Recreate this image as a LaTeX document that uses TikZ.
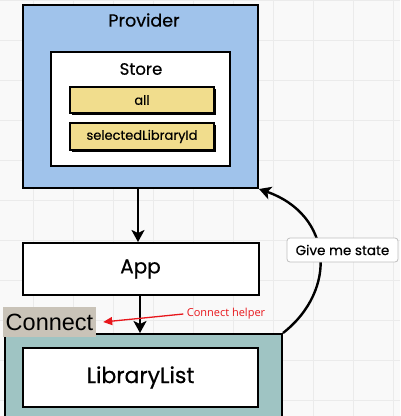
\documentclass[tikz,border=0pt]{standalone}
\usepackage{fontspec}
\setmainfont{Poppins}[FakeBold=0.5]
\setsansfont{Liberation Sans}
\newfontfamily\helperfont{Open Sans}
\usetikzlibrary{arrows.meta,shadows}
\definecolor{provblue}{HTML}{A0C3EB}
\definecolor{tealbox}{HTML}{9FC4C3}
\definecolor{yel}{HTML}{F1DD8D}
\definecolor{congray}{HTML}{C9C3B8}
\definecolor{redarr}{HTML}{E8161B}
\definecolor{bg}{HTML}{F9F9F9}
\tikzset{
  box/.style={draw=black, line width=2pt, minimum width=#1, inner sep=0pt},
  field/.style={draw=black, line width=1.2pt, fill=yel, inner sep=0pt,
     minimum width=144pt, font=\fontsize{13}{15}\selectfont,
     drop shadow={shadow xshift=2pt, shadow yshift=-2pt, fill=black, opacity=1}},
  flow/.style={line width=2.4pt, -{Stealth[length=12pt,width=13pt,inset=3pt]}},
}
\begin{document}
\begin{tikzpicture}[x=1pt,y=-1pt]
\useasboundingbox (0,0) rectangle (400,416);
\fill[bg] (0,0) rectangle (400,416);
\foreach \x in {33,73,...,393} \draw[black!8, line width=0.6pt] (\x,0) -- (\x,416);
\foreach \y in {0,40,...,400} \draw[black!8, line width=0.6pt] (0,\y) -- (400,\y);
% Provider
\node[box=235pt, minimum height=183pt, fill=provblue] (provider) at (140.5,96.5) {};
\node[font=\fontsize{17.5}{19}\selectfont] (providerlbl) at (144,20) {Provider};
\node[box=179pt, minimum height=114pt, fill=white, line width=1.6pt] (store) at (140.5,109) {};
\node[font=\fontsize{16.5}{18}\selectfont] (storelbl) at (141,69) {Store};
\node[field, minimum height=26pt] (all) at (142,100) {all};
\node[field, minimum height=27pt] (sel) at (142,136.5) {selectedLibraryId};
% App
\node[box=236pt, minimum height=52pt, fill=white, font=\fontsize{20}{22}\selectfont] (app) at (140.5,269) {App};
% Connect wrapper
\node[box=277pt, minimum height=90pt, fill=tealbox] (wrap) at (143.5,379) {};
\node[box=235pt, minimum height=59pt, fill=white, font=\fontsize{22}{24}\selectfont] (liblist) at (140.5,377.5) {LibraryList};
\node[fill=congray, minimum width=93pt, minimum height=30pt, inner sep=0pt,
      font=\sffamily\fontsize{23.5}{25}\selectfont] (connect) at (49.5,322) {Connect};
% Arrows
\draw[flow] ([xshift=-2.5pt]provider.south) -- ([xshift=-2.5pt]app.north);
\draw[flow] ([xshift=-0.5pt]app.south) -- ([xshift=-3.5pt]wrap.north);
% Give me state
\draw[flow] (wrap.north east) .. controls (338,290) and (333,215) .. (provider.south east);
\node[draw=black!25, fill=white, rounded corners=3pt, line width=0.8pt, minimum width=111pt,
      minimum height=24pt, inner sep=0pt, font=\fontsize{13.5}{15}\selectfont] (give) at (342.5,250) {Give me state};
% Connect helper
\node[text=redarr, font=\helperfont\fontsize{11}{13}\selectfont] (helper) at (226,314) {Connect helper};
\draw[redarr, line width=1.3pt, -{Triangle[length=9pt,width=8pt]}] (helper.west) -- ([xshift=7pt]connect.east);
\end{tikzpicture}
\end{document}
